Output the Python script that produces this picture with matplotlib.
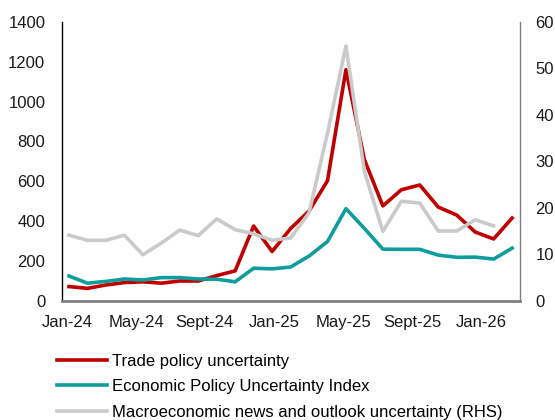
import numpy as np
import matplotlib.pyplot as plt

plt.rcParams['font.family'] = ['Liberation Sans', 'DejaVu Sans']

# monthly data Jan-24 .. Jan-26
months = ['Jan-24', 'Feb-24', 'Mar-24', 'Apr-24', 'May-24', 'Jun-24', 'Jul-24', 'Aug-24',
          'Sep-24', 'Oct-24', 'Nov-24', 'Dec-24', 'Jan-25', 'Feb-25', 'Mar-25', 'Apr-25',
          'May-25', 'Jun-25', 'Jul-25', 'Aug-25', 'Sep-25', 'Oct-25', 'Nov-25', 'Dec-25', 'Jan-26']
trade = [71, 62, 79, 91, 95, 88, 99, 99, 126, 150, 375, 247,
         362, 450, 602, 1160, 708, 476, 557, 581, 470, 430, 345, 310, 415]
epu = [124, 88, 97, 109, 104, 116, 116, 109, 108, 95, 163, 160,
       169, 224, 297, 462, 363, 259, 258, 258, 229, 218, 219, 209, 264]
macro = [14.1, 13.0, 13.0, 14.1, 9.9, 12.4, 15.2, 14.0, 17.6, 15.3, 14.4, 13.0,
         13.5, 18.9, 36.0, 54.8, 27.8, 14.9, 21.4, 21.0, 15.0, 15.0, 17.4, 16.1, np.nan]

xlabels = ['Jan-24', 'May-24', 'Sept-24', 'Jan-25', 'May-25', 'Sept-25', 'Jan-26']
xlabel_pos = [-0.1, 3.63, 7.31, 11.1, 14.85, 18.58, 22.32]

x = np.arange(len(months))

fig = plt.figure(figsize=(5.55, 4.2), dpi=100)
ax = fig.add_axes([0.1117, 0.284, 0.8253, 0.664])
ax2 = ax.twinx()

l1, = ax.plot(x, trade, color='#C00000', lw=2.6, label='Trade policy uncertainty')
l2, = ax.plot(x, epu, color='#0E9C9C', lw=2.6, label='Economic Policy Uncertainty Index')
l3, = ax2.plot(x, macro, color='#CACACA', lw=2.6,
               label='Macroeconomic news and outlook uncertainty (RHS)')

ax.set_xlim(-0.38, 24.43)
ax.set_ylim(0, 1400)
ax2.set_ylim(0, 60)
ax.set_yticks(range(0, 1401, 200))
ax2.set_yticks(range(0, 61, 10))
ax.set_xticks(xlabel_pos)
ax.set_xticklabels(xlabels)

for a in (ax, ax2):
    a.spines['top'].set_visible(False)
    a.tick_params(length=0, labelsize=12, colors='#1a1a1a')
ax.spines['right'].set_visible(False)
ax2.spines['left'].set_visible(False)
ax2.spines['bottom'].set_visible(False)
ax.spines['left'].set_color('#000000')
ax.spines['left'].set_linewidth(1.0)
ax.spines['bottom'].set_color('#808080')
ax.spines['bottom'].set_linewidth(2.0)
ax2.spines['right'].set_color('#808080')
ax2.spines['right'].set_linewidth(1.0)
ax.tick_params(axis='y', pad=12)
ax2.tick_params(axis='y', pad=11)
ax.tick_params(axis='x', pad=10)

fig.legend(handles=[l1, l2, l3], loc='upper left', bbox_to_anchor=(0.103, 0.158),
           frameon=False, fontsize=12, handlelength=3.0, handletextpad=0.3,
           labelspacing=0.63, borderaxespad=0, borderpad=0)

fig.savefig('out.png', dpi=100)
